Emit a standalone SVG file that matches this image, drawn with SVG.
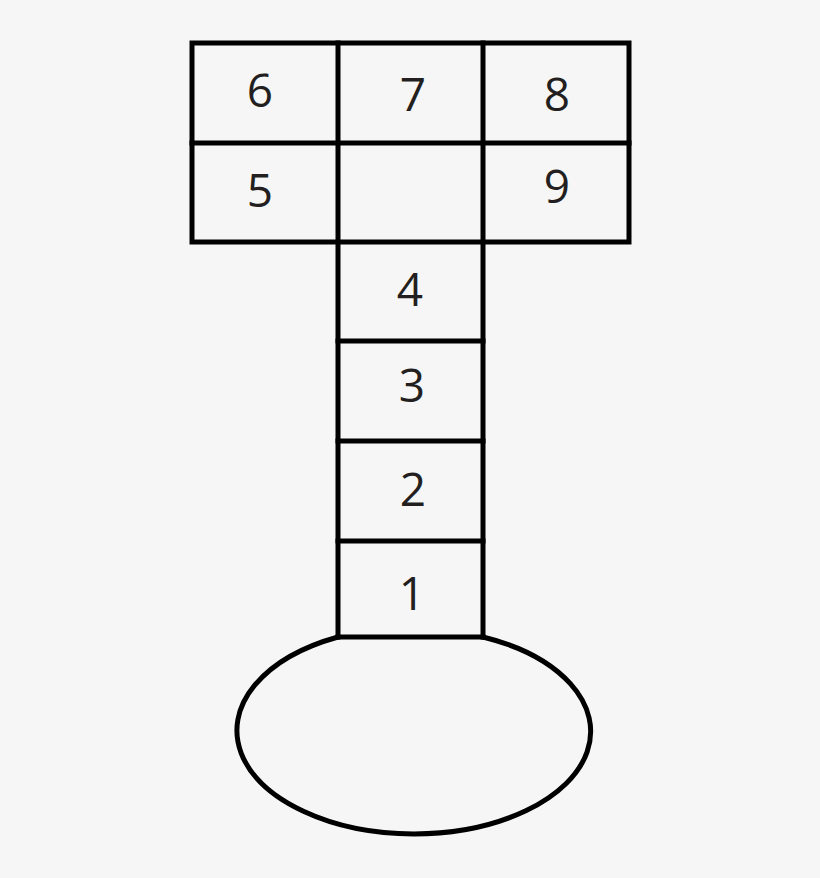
<svg xmlns="http://www.w3.org/2000/svg" width="820" height="878" viewBox="0 0 820 878">
<style>
.ln{fill:none;stroke:#000;stroke-width:5;stroke-linejoin:miter;stroke-linecap:square}
.num{font-family:"Open Sans","Noto Sans","DejaVu Sans",sans-serif;font-size:46px;fill:#231f20;text-anchor:middle}
</style>
<rect width="820" height="878" fill="#f6f6f6"/>
<g id="grid">
<rect class="ln" x="192" y="43" width="437" height="199"/>
<line class="ln" x1="338" y1="43" x2="338" y2="637"/>
<line class="ln" x1="483" y1="43" x2="483" y2="637"/>
<line class="ln" x1="192" y1="143" x2="629" y2="143"/>
<line class="ln" x1="338" y1="341" x2="483" y2="341"/>
<line class="ln" x1="338" y1="441" x2="483" y2="441"/>
<line class="ln" x1="338" y1="541" x2="483" y2="541"/>
<line class="ln" x1="338" y1="637" x2="483" y2="637"/>
</g>
<g id="oval">
<path class="ln" d="M338,637 A177,103.5 0 0 0 414,834 A177,102.6 0 0 0 483,637"/>
</g>
<g id="labels">
<text class="num" x="260" y="107">6</text>
<text class="num" x="413" y="111">7</text>
<text class="num" x="557" y="111">8</text>
<text class="num" x="260" y="207">5</text>
<text class="num" x="557" y="203">9</text>
<text class="num" x="410" y="306">4</text>
<text class="num" x="412" y="402">3</text>
<text class="num" x="413" y="506">2</text>
<text class="num" x="412" y="610">1</text>
</g>
</svg>
